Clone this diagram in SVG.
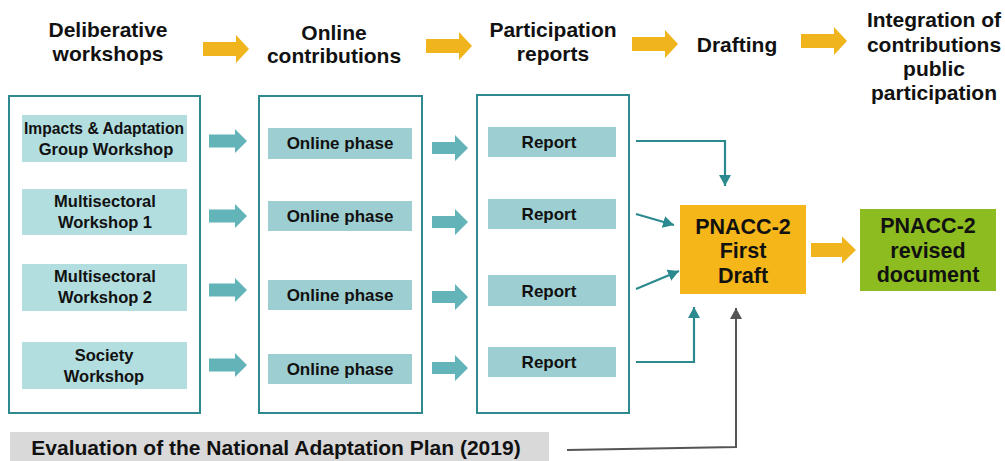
<svg xmlns="http://www.w3.org/2000/svg" width="1005" height="461" viewBox="0 0 1005 461">
<style>
text{font-family:"Liberation Sans",Arial,sans-serif;font-weight:bold;fill:#111;text-anchor:middle}
.hd{font-size:21px}
.ws{font-size:16.5px}
.op{font-size:17px}
.cont{fill:#fff;stroke:#2e8a8e;stroke-width:2}
.wsb{fill:#b2dedf}
.opb{fill:#9dcfd2}
.tb{fill:#62b4b9}
.gold{fill:#f0b41c}
.conn{fill:none;stroke:#2a8a8f;stroke-width:2.2}
.gconn{fill:none;stroke:#555;stroke-width:2}
.big{font-size:21.5px}
</style>
<defs>
<path id="ta1" d="M0,-6.5 H26 V-12 L38,0 L26,12 V6.5 H0 Z"/>
<path id="ta2" d="M0,-6 H23 V-13 L36,0 L23,13 V6 H0 Z"/>
<path id="ga" d="M0,-7 H33 V-14 L46,0 L33,14 V7 H0 Z"/>
<marker id="mt" markerUnits="userSpaceOnUse" markerWidth="14" markerHeight="14" refX="11" refY="6" orient="auto">
<path d="M0,0 L11,6 L0,12 Z" fill="#2a8a8f"/>
</marker>
<marker id="mg" markerUnits="userSpaceOnUse" markerWidth="14" markerHeight="14" refX="11" refY="6" orient="auto">
<path d="M0,0 L11,6 L0,12 Z" fill="#555"/>
</marker>
</defs>
<rect width="1005" height="461" fill="#fff"/>

<g id="headers">
<text class="hd" x="108" y="37">Deliberative</text>
<text class="hd" x="108" y="61">workshops</text>
<text class="hd" x="334" y="40">Online</text>
<text class="hd" x="334" y="63">contributions</text>
<text class="hd" x="553" y="37">Participation</text>
<text class="hd" x="553" y="61">reports</text>
<text class="hd" x="737" y="52">Drafting</text>
<text class="hd" x="934" y="27">Integration of</text>
<text class="hd" x="934" y="52">contributions</text>
<text class="hd" x="934" y="76">public</text>
<text class="hd" x="934" y="100">participation</text>
</g>

<g id="stage-arrows">
<use href="#ga" class="gold" x="203" y="49"/>
<use href="#ga" class="gold" x="426" y="46"/>
<use href="#ga" class="gold" x="632" y="44"/>
<use href="#ga" class="gold" x="801" y="41"/>
</g>

<g id="col-workshops">
<rect class="cont" x="9" y="96" width="191" height="317"/>
<g id="ws1"><rect class="wsb" x="22" y="115" width="165" height="47"/>
<text class="ws" x="104" y="134" textLength="160" lengthAdjust="spacingAndGlyphs">Impacts &amp; Adaptation</text><text class="ws" x="106" y="155">Group Workshop</text></g>
<g id="ws2"><rect class="wsb" x="22" y="189" width="165" height="46"/>
<text class="ws" x="105" y="207">Multisectoral</text><text class="ws" x="105" y="228">Workshop 1</text></g>
<g id="ws3"><rect class="wsb" x="22" y="264" width="165" height="47"/>
<text class="ws" x="105" y="282">Multisectoral</text><text class="ws" x="105" y="303">Workshop 2</text></g>
<g id="ws4"><rect class="wsb" x="22" y="342" width="165" height="47"/>
<text class="ws" x="104" y="361">Society</text><text class="ws" x="104" y="382">Workshop</text></g>
</g>

<g id="col-online">
<rect class="cont" x="259" y="96" width="163" height="317"/>
<g id="op1"><rect class="opb" x="268" y="128" width="144" height="31"/><text class="op" x="340" y="149">Online phase</text></g>
<g id="op2"><rect class="opb" x="268" y="201" width="144" height="30"/><text class="op" x="340" y="222">Online phase</text></g>
<g id="op3"><rect class="opb" x="268" y="280" width="144" height="30"/><text class="op" x="340" y="301">Online phase</text></g>
<g id="op4"><rect class="opb" x="268" y="354" width="144" height="30"/><text class="op" x="340" y="375">Online phase</text></g>
</g>

<g id="col-reports">
<rect class="cont" x="477" y="95" width="152" height="318"/>
<g id="r1"><rect class="opb" x="488" y="127" width="128" height="30"/><text class="op" x="549" y="148">Report</text></g>
<g id="r2"><rect class="opb" x="488" y="199" width="128" height="30"/><text class="op" x="549" y="220">Report</text></g>
<g id="r3"><rect class="opb" x="488" y="275" width="128" height="31"/><text class="op" x="549" y="297">Report</text></g>
<g id="r4"><rect class="opb" x="488" y="347" width="128" height="30"/><text class="op" x="549" y="368">Report</text></g>
</g>

<g id="first-draft">
<rect x="680" y="205" width="126" height="89" fill="#f4b619"/>
<text class="big" x="743" y="234">PNACC-2</text>
<text class="big" x="743" y="258">First</text>
<text class="big" x="743" y="283">Draft</text>
</g>

<g id="revised">
<rect x="860" y="209" width="136" height="82" fill="#8cbc20"/>
<text class="big" x="928" y="233">PNACC-2</text>
<text class="big" x="928" y="258">revised</text>
<text class="big" x="928" y="282">document</text>
</g>

<g id="evaluation">
<rect x="10" y="432" width="539" height="35" fill="#d9d9d9"/>
<text class="hd" x="276" y="455">Evaluation of the National Adaptation Plan (2019)</text>
</g>

<g id="connectors">
<use href="#ta1" class="tb" x="209" y="141"/>
<use href="#ta1" class="tb" x="209" y="216"/>
<use href="#ta1" class="tb" x="209" y="290"/>
<use href="#ta1" class="tb" x="209" y="365"/>
<use href="#ta2" class="tb" x="432" y="148"/>
<use href="#ta2" class="tb" x="432" y="222"/>
<use href="#ta2" class="tb" x="432" y="297"/>
<use href="#ta2" class="tb" x="432" y="368"/>
<path class="conn" d="M636,141 H725 V186" marker-end="url(#mt)"/>
<path class="conn" d="M636,214 L674,225" marker-end="url(#mt)"/>
<path class="conn" d="M636,289 L679,271" marker-end="url(#mt)"/>
<path class="conn" d="M636,362 H694 V307" marker-end="url(#mt)"/>
<path class="gconn" d="M567,450 L736,447 V308" marker-end="url(#mg)"/>
<path d="M811,243 H842 V236.5 L856,250 L842,263.5 V257 H811 Z" fill="#f0b41c"/>
</g>
</svg>
